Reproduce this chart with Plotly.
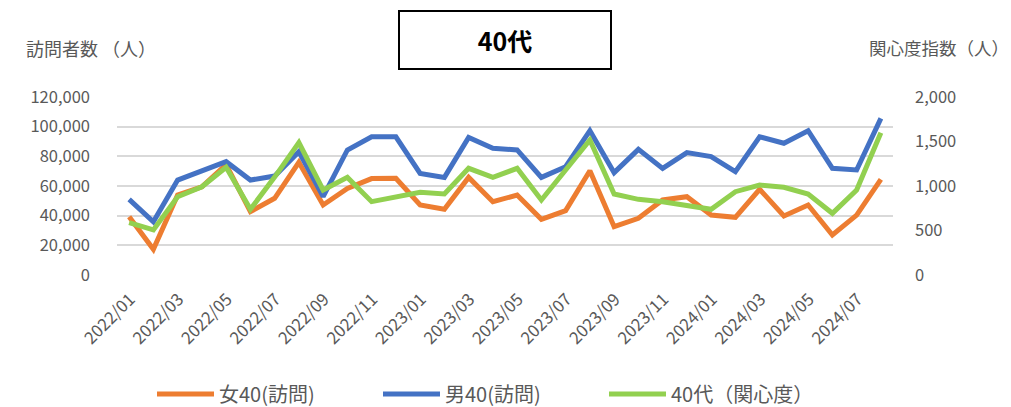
import plotly.graph_objects as go

months = [f"{y}/{m:02d}" for y in (2022, 2023, 2024) for m in range(1, 13)][:32]
tick_labels = months[0::2]

female40 = [39300, 17300, 53900, 59500, 74500, 42700, 51700, 76000, 47200, 58400, 65000, 65200,
            47200, 44300, 65800, 49400, 53900, 37500, 43400, 70300, 32600, 38200, 50600, 52800,
            40400, 38900, 57800, 39800, 47200, 27000, 40400, 64500]
male40 = [51000, 35900, 64000, 70100, 76400, 64000, 66700, 83100, 52800, 84300, 93200, 93200,
          68500, 65800, 92800, 85400, 84300, 65800, 73000, 97300, 69000, 84700, 71900, 82500,
          79800, 69700, 93200, 88800, 97300, 71900, 70800, 105600]
interest40 = [588, 506, 880, 992, 1210, 738, 1100, 1487, 955, 1097, 824, 870,
              929, 910, 1199, 1097, 1199, 843, 1180, 1517, 910, 850, 824, 787,
              738, 936, 1011, 985, 910, 693, 955, 1599]

FONT = "Noto Sans CJK JP, Noto Sans, sans-serif"
GRAY = "#595959"
W, H = 1011, 407
L, R, T, B = 117, 118, 97, 132
PW = W - L - R
PH = H - T - B

def px(xp):
    return (xp - L) / PW

def py(yp):
    return (H - B - yp) / PH

fig = go.Figure()
fig.add_trace(go.Scatter(x=months, y=female40, name="女40(訪問)", mode="lines",
                         line=dict(color="#ED7D31", width=5)))
fig.add_trace(go.Scatter(x=months, y=male40, name="男40(訪問)", mode="lines",
                         line=dict(color="#4472C4", width=5)))
fig.add_trace(go.Scatter(x=months, y=interest40, name="40代（関心度）", mode="lines",
                         line=dict(color="#92D050", width=5), yaxis="y2"))

fig.update_layout(
    width=W, height=H,
    margin=dict(l=L, r=R, t=T, b=B, autoexpand=False),
    paper_bgcolor="white", plot_bgcolor="white",
    font=dict(family=FONT, color=GRAY, size=17),
    showlegend=True,
    legend=dict(orientation="h", xref="container", yref="container",
                x=152 / W, xanchor="left", y=(H - 394) / H, yanchor="middle",
                font=dict(size=20, color=GRAY), itemwidth=57, entrywidth=154,
                traceorder="normal", bgcolor="rgba(0,0,0,0)"),
    xaxis=dict(type="category", range=[-0.5, 31.5], tickmode="array",
               tickvals=tick_labels, ticktext=tick_labels, tickangle=-45,
               tickfont=dict(size=17, color=GRAY), showgrid=False, showline=False,
               ticks="", automargin=False, ticklabelstandoff=10, ticklabelshift=1),
    yaxis=dict(range=[0, 120000], dtick=20000, tickformat=",", showgrid=True,
               gridcolor="#d9d9d9", gridwidth=1.5, zeroline=False, showline=False,
               tickfont=dict(size=16.5, color=GRAY), ticklabelstandoff=26, automargin=False),
    yaxis2=dict(range=[0, 2000], dtick=500, tickformat=",", overlaying="y", side="right",
                showgrid=False, zeroline=False, showline=False,
                tickfont=dict(size=16.5, color=GRAY), ticklabelstandoff=21, automargin=False),
    annotations=[
        dict(text="<b>40代</b>", xref="paper", yref="paper", x=px(505), y=py(40),
             xanchor="center", yanchor="middle", showarrow=False,
             font=dict(size=25, color="black", family=FONT),
             bordercolor="black", borderwidth=2, width=208, height=54, bgcolor="white"),
        dict(text="訪問者数 （人）", xref="paper", yref="paper", x=px(24), y=py(48),
             xanchor="left", yanchor="middle", showarrow=False,
             font=dict(size=18, color=GRAY)),
        dict(text="関心度指数（人）", xref="paper", yref="paper", x=px(1011), y=py(47),
             xanchor="right", yanchor="middle", showarrow=False,
             font=dict(size=17.5, color=GRAY)),
    ],
)

fig.write_html("out.html", post_script="document.body.style.margin='0';",
               config={"displayModeBar": False})
